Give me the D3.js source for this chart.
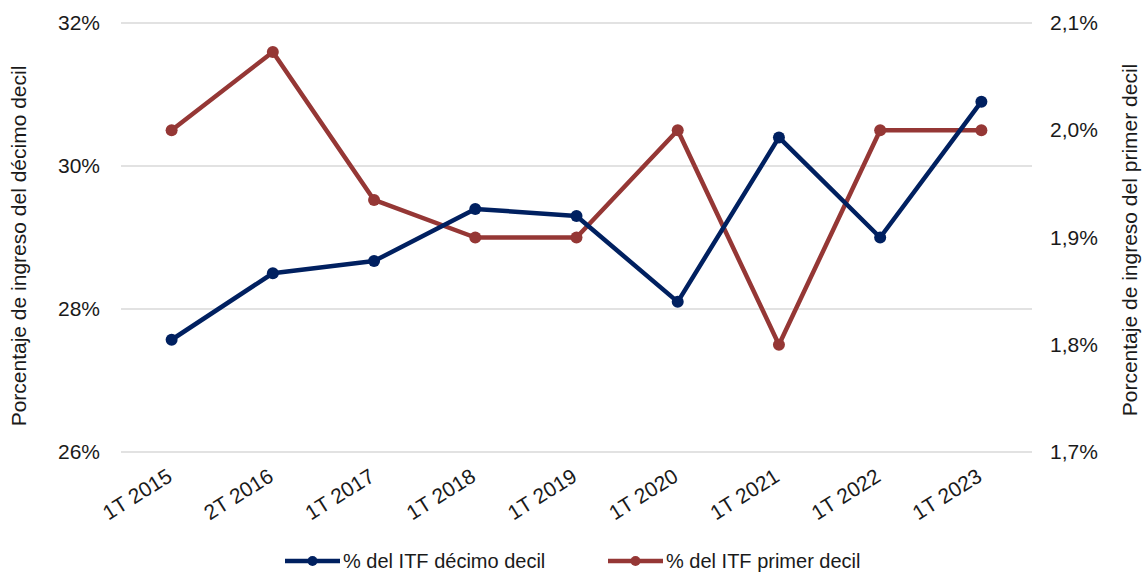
<!DOCTYPE html>
<html>
<head>
<meta charset="utf-8">
<script src="https://cdnjs.cloudflare.com/ajax/libs/d3/7.8.5/d3.min.js"></script>
<style>
  body { margin: 0; background: #fff; }
  #chart { width: 1145px; height: 572px; }
  text { font-family: "Liberation Sans", Arial, Helvetica, sans-serif; fill: #1a1a1a; }
</style>
</head>
<body>
<div id="chart"></div>
<script>
// categories and series
var categories = ["1T 2015", "2T 2016", "1T 2017", "1T 2018", "1T 2019", "1T 2020", "1T 2021", "1T 2022", "1T 2023"];
var decimoDecil = [27.57, 28.5, 28.67, 29.4, 29.3, 28.1, 30.4, 29.0, 30.9];
var primerDecil = [2.0, 2.073, 1.935, 1.9, 1.9, 2.0, 1.8, 2.0, 2.0];
var leftTicks = [26, 28, 30, 32];
var rightTicks = [1.7, 1.8, 1.9, 2.0, 2.1];
var seriesNames = ["% del ITF décimo decil", "% del ITF primer decil"];
var seriesColors = ["#002060", "#953735"];

function LineChart(id) {
	this.id = id;
	this.margin = { top: 23, right: 113, bottom: 120, left: 121 };
	this.width = 1145 - this.margin.left - this.margin.right;
	this.height = 572 - this.margin.top - this.margin.bottom;
	this.svg = null;
}

LineChart.prototype = {
	constructor: LineChart,

	init: function() {
		let self = this;
		let fontSize = "21px";

		let root = d3.select(self.id).append("svg")
			.attr("width", 1145)
			.attr("height", 572);

		self.svg = root.append("g")
			.attr("transform", "translate(" + self.margin.left + "," + self.margin.top + ")");

		let x = d3.scaleBand().domain(categories).range([0, self.width]);
		let yLeft = d3.scaleLinear().domain([26, 32]).range([self.height, 0]);
		let yRight = d3.scaleLinear().domain([1.7, 2.1]).range([self.height, 0]);

		// gridlines follow the left axis
		self.svg.selectAll(".grid")
			.data(leftTicks)
			.enter()
			.append("line")
			.attr("class", "grid")
			.attr("x1", 0)
			.attr("x2", self.width)
			.attr("y1", d => yLeft(d))
			.attr("y2", d => yLeft(d))
			.style("stroke", "#d9d9d9")
			.style("stroke-width", 1.4);

		let leftAxis = d3.axisLeft(yLeft)
			.tickValues(leftTicks)
			.tickSize(0)
			.tickPadding(21)
			.tickFormat(d => d + "%");
		let gl = self.svg.append("g").call(leftAxis);
		gl.select(".domain").remove();
		gl.selectAll("text").style("font-size", fontSize).style("font-family", null);

		let fmt = d3.format(".1f");
		let rightAxis = d3.axisRight(yRight)
			.tickValues(rightTicks)
			.tickSize(0)
			.tickPadding(18)
			.tickFormat(d => fmt(d).replace(".", ",") + "%");
		let gr = self.svg.append("g")
			.attr("transform", "translate(" + self.width + ",0)")
			.call(rightAxis);
		gr.select(".domain").remove();
		gr.selectAll("text").style("font-size", fontSize).style("font-family", null);

		// category labels, tilted
		self.svg.selectAll(".xlabel")
			.data(categories)
			.enter()
			.append("text")
			.attr("class", "xlabel")
			.attr("text-anchor", "end")
			.attr("transform", d => "translate(" + (x(d) + x.bandwidth() / 2 + 2) + "," + (self.height + 28) + ") rotate(-32)")
			.style("font-size", fontSize)
			.text(d => d);

		// axis titles
		root.append("text")
			.attr("text-anchor", "middle")
			.attr("transform", "translate(26,246) rotate(-90)")
			.style("font-size", fontSize)
			.text("Porcentaje de ingreso del décimo decil");

		root.append("text")
			.attr("text-anchor", "middle")
			.attr("transform", "translate(1137,240) rotate(-90)")
			.style("font-size", fontSize)
			.text("Porcentaje de ingreso del primer decil");

		let series = [
			{ values: decimoDecil, y: yLeft, color: seriesColors[0] },
			{ values: primerDecil, y: yRight, color: seriesColors[1] }
		];

		// red drawn first so the blue sits on top where they cross
		series.slice().reverse().forEach(function(s) {
			let line = d3.line()
				.x((d, i) => x(categories[i]) + x.bandwidth() / 2)
				.y(d => s.y(d));

			self.svg.append("path")
				.datum(s.values)
				.attr("d", line)
				.style("fill", "none")
				.style("stroke", s.color)
				.style("stroke-width", 4.5)
				.style("stroke-linejoin", "round");

			self.svg.selectAll(null)
				.data(s.values)
				.enter()
				.append("circle")
				.attr("cx", (d, i) => x(categories[i]) + x.bandwidth() / 2)
				.attr("cy", d => s.y(d))
				.attr("r", 6)
				.style("fill", s.color);
		});

		// legend
		let legendX = [285, 608];
		let legend = root.append("g")
			.selectAll("g")
			.data(seriesNames)
			.enter()
			.append("g")
			.attr("transform", (d, i) => "translate(" + legendX[i] + ",561)");

		legend.append("line")
			.attr("x1", 0)
			.attr("x2", 55)
			.style("stroke", (d, i) => seriesColors[i])
			.style("stroke-width", 4.5);

		legend.append("circle")
			.attr("cx", 27.5)
			.attr("r", 5)
			.style("fill", (d, i) => seriesColors[i]);

		legend.append("text")
			.attr("x", 58)
			.attr("y", 0)
			.attr("dy", ".35em")
			.style("font-size", "20px")
			.text(d => d);
	}
}

let chart = new LineChart("#chart");
chart.init();
</script>
</body>
</html>
